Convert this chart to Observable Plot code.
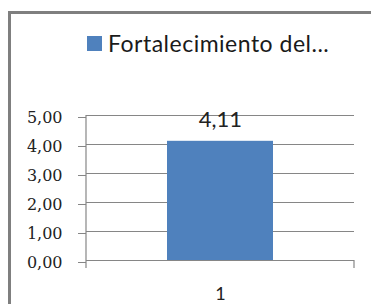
<!DOCTYPE html>
<html><head><meta charset="utf-8">
<script src="https://cdn.jsdelivr.net/npm/d3@7"></script>
<script src="https://cdn.jsdelivr.net/npm/@observablehq/plot@0.6"></script>
<style>
body{margin:0;background:#fff;width:371px;height:304px;overflow:hidden;position:relative}
#border{position:absolute;left:8px;top:11px;width:400px;height:400px;border-top:3px solid #7f7f7f;border-left:3px solid #7f7f7f}
#legend{position:absolute;left:87px;top:29px;font-family:Lato,"Open Sans",sans-serif;font-size:23px;letter-spacing:0.5px;color:#1a1a1a;display:flex;align-items:center;white-space:nowrap}
#legend .sw{width:15px;height:15px;background:#4f81bd;margin-right:6px}
#chart{position:absolute;left:0;top:0}
</style></head><body>
<div id="border"></div>
<div id="legend"><span class="sw"></span><span>Fortalecimiento del...</span></div>
<div id="chart"></div>
<script>
const categories = ["1"];
const values = [4.11];
const valueLabels = ["4,11"];
const yTicks = [0, 1, 2, 3, 4, 5];
const seriesName = "Fortalecimiento del...";

const data = categories.map((c, i) => ({cat: c, v: values[i], label: valueLabels[i]}));
const fmt = d => d.toFixed(2).replace(".", ",");

const plot = Plot.plot({
  width: 371, height: 304,
  marginTop: 115, marginBottom: 44, marginLeft: 86, marginRight: 17,
  style: {background: "transparent", overflow: "visible"},
  x: {domain: categories, padding: 0.433, axis: null},
  y: {domain: [0, 5], axis: null},
  marks: [
    Plot.ruleY(yTicks, {y: d => d, stroke: "#868686", strokeWidth: 1.2}),
    Plot.barY(data, {x: "cat", y: "v", fill: "#4f81bd"}),
    Plot.axisY({ticks: yTicks, tickFormat: fmt, tickSize: 8, tickPadding: 16, stroke: "#868686", label: null,
      fontSize: 16, fontFamily: "DejaVu Serif, serif", fill: "#222", dy: 2}),
    Plot.text(data, {x: "cat", y: "v", text: "label", dy: -21, fontSize: 22, fontFamily: "Lato, 'Open Sans', sans-serif", fill: "#222", style: "letter-spacing:1px"}),
    Plot.text(data, {x: "cat", y: 0, text: "cat", dy: 34, fontSize: 18, fontFamily: "Lato, 'Open Sans', sans-serif", fill: "#222"})
  ]
});
document.getElementById("chart").appendChild(plot);

// category boundary lines (vertical axis and tick marks) from Plot's scales
const xs = plot.scale("x"), ys = plot.scale("y");
const [x0, x1] = xs.range;
const yTop = ys.apply(5), yBase = ys.apply(0);
const svg = d3.select(plot);
svg.append("line").attr("x1", x0).attr("x2", x0).attr("y1", yTop).attr("y2", yBase + 8)
  .attr("stroke", "#868686").attr("stroke-width", 1.2);
svg.append("line").attr("x1", x1).attr("x2", x1).attr("y1", yBase).attr("y2", yBase + 8)
  .attr("stroke", "#868686").attr("stroke-width", 1.2);
</script>
</body></html>
